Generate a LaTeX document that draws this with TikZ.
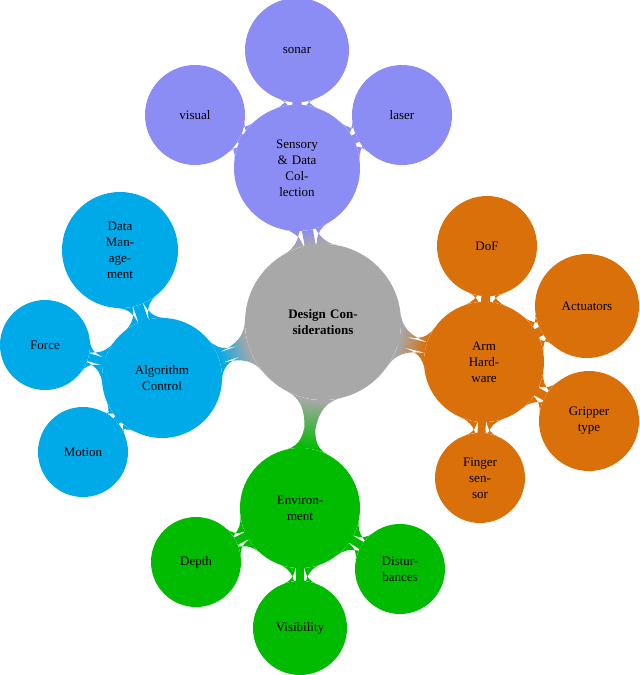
\documentclass[tikz,border=0pt]{standalone}
\usepackage{fontspec}
\setmainfont{Liberation Serif}
\usetikzlibrary{mindmap,backgrounds}
\definecolor{cgray}{HTML}{A8A8A8}
\definecolor{cpur}{HTML}{8C8CF5}
\definecolor{corg}{HTML}{D9700A}
\definecolor{ccy}{HTML}{00A9E8}
\definecolor{cgr}{HTML}{00BB00}
\begin{document}
\begin{tikzpicture}[x=1pt,y=-1pt,
  cc/.style={circle,fill=#1,text=black,align=center,inner sep=0pt,font=\fontsize{13}{16}\selectfont},
  conn2/.style args={#1/#2}{circle connection bar switch color=from (#1) to (#2)}]
\useasboundingbox (0,0) rectangle (640,675);
\node[cc=cgray,minimum size=156pt,text width=120pt,font=\bfseries\fontsize{13}{16}\selectfont] (c) at (323,322) {Design Con-\\siderations};
\node[cc=cpur,minimum size=126pt,text width=80pt] (s) at (297,168) {Sensory\\\& Data\\Col-\\lection};
\node[cc=cpur,minimum size=104pt] (s1) at (297,50) {sonar};
\node[cc=cpur,minimum size=100pt] (s2) at (195,115) {visual};
\node[cc=cpur,minimum size=100pt] (s3) at (402,115) {laser};
\node[cc=corg,minimum size=120pt,text width=70pt] (a) at (484,362) {Arm\\Hard-\\ware};
\node[cc=corg,minimum size=100pt] (a1) at (487,246) {DoF};
\node[cc=corg,minimum size=104pt] (a2) at (587,306) {Actuators};
\node[cc=corg,minimum size=100pt] (a3) at (589,421) {Gripper\\type};
\node[cc=corg,minimum size=90pt] (a4) at (480,478) {Finger\\sen-\\sor};
\node[cc=ccy,minimum size=120pt] (g) at (162,378) {Algorithm\\Control};
\node[cc=ccy,minimum size=116pt] (g1) at (120,250) {Data\\Man-\\age-\\ment};
\node[cc=ccy,minimum size=90pt] (g2) at (45,345) {Force};
\node[cc=ccy,minimum size=90pt] (g3) at (83,452) {Motion};
\node[cc=cgr,minimum size=120pt] (e) at (300,508) {Environ-\\ment};
\node[cc=cgr,minimum size=90pt] (e1) at (196,562) {Depth};
\node[cc=cgr,minimum size=90pt] (e2) at (400,569) {Distur-\\bances};
\node[cc=cgr,minimum size=94pt] (e3) at (300,628) {Visibility};
\begin{scope}[on background layer]
\path (c) to[conn2=cgray/cpur] (s);
\path (c) to[conn2=cgray/corg] (a);
\path (c) to[conn2=cgray/ccy] (g);
\path (c) to[conn2=cgray/cgr] (e);
\path (s) to[conn2=cpur/cpur] (s1);
\path (s) to[conn2=cpur/cpur] (s2);
\path (s) to[conn2=cpur/cpur] (s3);
\path (a) to[conn2=corg/corg] (a1);
\path (a) to[conn2=corg/corg] (a2);
\path (a) to[conn2=corg/corg] (a3);
\path (a) to[conn2=corg/corg] (a4);
\path (g) to[conn2=ccy/ccy] (g1);
\path (g) to[conn2=ccy/ccy] (g2);
\path (g) to[conn2=ccy/ccy] (g3);
\path (e) to[conn2=cgr/cgr] (e1);
\path (e) to[conn2=cgr/cgr] (e2);
\path (e) to[conn2=cgr/cgr] (e3);
\end{scope}
\end{tikzpicture}
\end{document}
